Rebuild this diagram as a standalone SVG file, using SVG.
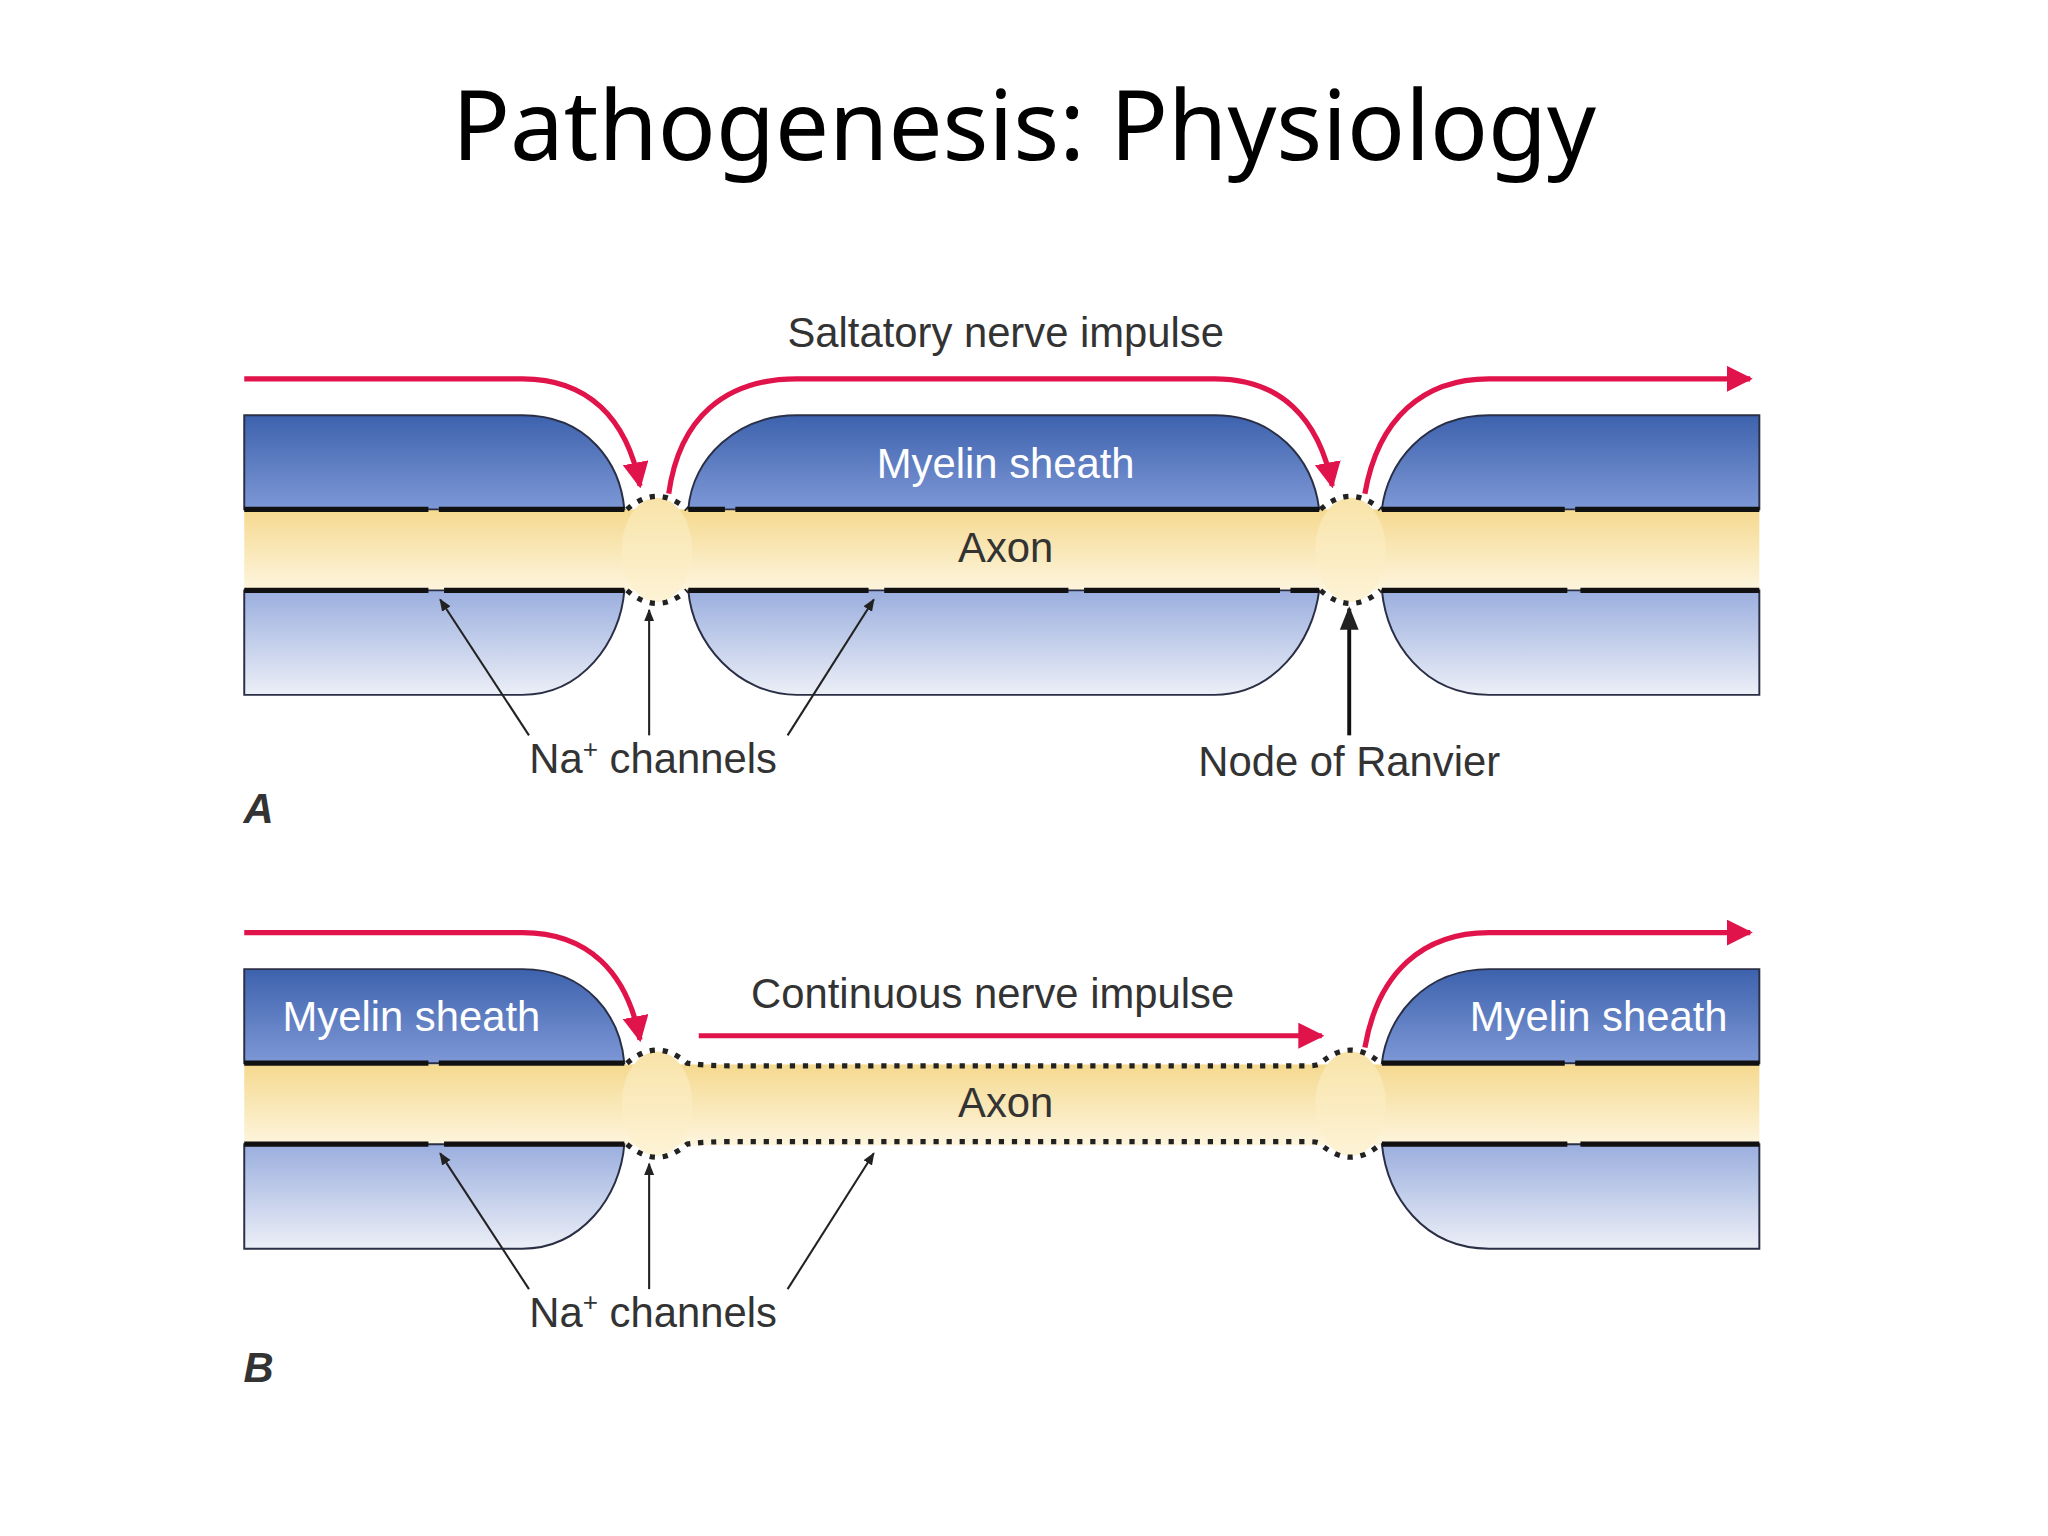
<svg xmlns="http://www.w3.org/2000/svg" width="2048" height="1536" viewBox="0 0 2048 1536">
<defs>
<linearGradient id="up" x1="0" y1="0" x2="0" y2="1"><stop offset="0" stop-color="#3d62ad"/><stop offset="1" stop-color="#7e98d6"/></linearGradient>
<linearGradient id="lo" x1="0" y1="0" x2="0" y2="1"><stop offset="0" stop-color="#9aaede"/><stop offset="1" stop-color="#eceff7"/></linearGradient>
<linearGradient id="ax" x1="0" y1="0" x2="0" y2="1"><stop offset="0" stop-color="#f5d98f"/><stop offset="1" stop-color="#fdf5de"/></linearGradient>
<linearGradient id="nd" x1="0" y1="0" x2="0" y2="1"><stop offset="0" stop-color="#f8e3a8"/><stop offset="1" stop-color="#fdf3d6"/></linearGradient>
<marker id="rh" viewBox="0 0 10 10" refX="9" refY="5" markerWidth="5" markerHeight="5" orient="auto"><path d="M0,0 L10,5 L0,10 Z" fill="#e0134a"/></marker>
<marker id="bh" viewBox="0 0 10 10" refX="9" refY="5" markerWidth="6" markerHeight="6" orient="auto"><path d="M0,1 L10,5 L0,9 Z" fill="#222"/></marker>
<style>
.sh{stroke:#2a2f45;stroke-width:1.5}
.mem{stroke:#111;stroke-width:4;fill:none}
.dot{stroke:#222;stroke-width:4;stroke-dasharray:4 6;fill:none}
.red{stroke:#e0134a;stroke-width:4;fill:none;marker-end:url(#rh)}
.ln{stroke:#222;stroke-width:1.6;fill:none;marker-end:url(#bh)}
.t{font-family:"Liberation Sans",Arial,sans-serif;font-size:32px;fill:#333;text-anchor:middle}
.w{fill:#fff}
.nd{fill:url(#nd)}
</style>
</defs>
<rect width="2048" height="1536" fill="#fff"/>
<text x="1024" y="160" font-family="'Noto Sans','Open Sans',sans-serif" font-size="96" text-anchor="middle" fill="#000">Pathogenesis: Physiology</text>
<g transform="scale(1.30612)">
<g id="panelA">
<rect x="187" y="390" width="1160" height="62" fill="url(#ax)"/>
<ellipse class="nd" cx="503" cy="421" rx="27" ry="40"/>
<ellipse class="nd" cx="1034" cy="421" rx="27" ry="40"/>
<path class="sh" fill="url(#up)" d="M187,318 H400 C450,318 475,355 478,390 H187 Z"/>
<path class="sh" fill="url(#up)" d="M527,390 C530,350 565,318 610,318 H930 C975,318 1005,350 1010,390 Z"/>
<path class="sh" fill="url(#up)" d="M1347,318 H1140 C1090,318 1062,355 1058,390 H1347 Z"/>
<path class="sh" fill="url(#lo)" d="M187,452 H478 C475,492 445,532 400,532 H187 Z"/>
<path class="sh" fill="url(#lo)" d="M527,452 C530,492 565,532 610,532 H930 C975,532 1005,492 1010,452 Z"/>
<path class="sh" fill="url(#lo)" d="M1347,452 H1058 C1062,492 1090,532 1140,532 H1347 Z"/>
<path class="mem" d="M187,390 H328 M336,390 H478 M527,390 H555 M563,390 H1010 M1058,390 H1198 M1206,390 H1347 M187,452 H328 M340,452 H478 M527,452 H665 M677,452 H818 M830,452 H980 M988,452 H1010 M1058,452 H1200 M1210,452 H1347"/>
<path class="dot" d="M480,390 Q503,370 526,390 M480,452 Q503,472 526,452 M1011,390 Q1034,370 1057,390 M1011,452 Q1034,472 1057,452"/>
<path class="red" d="M187,290 H400 C450,290 480,320 490,372"/>
<path class="red" d="M512,378 C520,320 555,290 610,290 H930 C980,290 1010,320 1020,372"/>
<path class="red" d="M1045,378 C1055,320 1090,290 1140,290 H1340"/>
<text class="t" x="770" y="266">Saltatory nerve impulse</text>
<text class="t w" x="770" y="366">Myelin sheath</text>
<text class="t" x="770" y="430">Axon</text>
<path class="ln" d="M405,563 L337,459"/>
<path class="ln" d="M497,563 L497,467"/>
<path class="ln" d="M603,563 L669,459"/>
<path stroke="#111" stroke-width="3" fill="none" marker-end="url(#bh)" d="M1033,563 L1033,466"/>
<text class="t" x="500" y="592">Na<tspan font-size="20" dy="-12">+</tspan><tspan dy="12"> channels</tspan></text>
<text class="t" x="1033" y="594">Node of Ranvier</text>
<text x="198" y="630" font-family="'Liberation Sans',Arial,sans-serif" font-size="32" font-weight="bold" font-style="italic" fill="#333" text-anchor="middle">A</text>
</g>
<g id="panelB" transform="translate(0,424)">
<rect x="187" y="391" width="1160" height="62" fill="url(#ax)"/>
<ellipse class="nd" cx="503" cy="421" rx="27" ry="40"/>
<ellipse class="nd" cx="1034" cy="421" rx="27" ry="40"/>
<path class="sh" fill="url(#up)" d="M187,318 H400 C450,318 475,355 478,390 H187 Z"/>
<path class="sh" fill="url(#up)" d="M1347,318 H1140 C1090,318 1062,355 1058,390 H1347 Z"/>
<path class="sh" fill="url(#lo)" d="M187,452 H478 C475,492 445,532 400,532 H187 Z"/>
<path class="sh" fill="url(#lo)" d="M1347,452 H1058 C1062,492 1090,532 1140,532 H1347 Z"/>
<path class="mem" d="M187,390 H328 M336,390 H478 M1058,390 H1198 M1206,390 H1347 M187,452 H328 M340,452 H478 M1058,452 H1200 M1210,452 H1347"/>
<path class="dot" d="M480,390 Q503,370 526,390 Q540,392 560,392 H1000 Q1010,392 1011,390 Q1034,370 1057,390 M480,452 Q503,472 526,452 Q540,450 560,450 H1000 Q1010,450 1011,452 Q1034,472 1057,452"/>
<path class="red" d="M187,290 H400 C450,290 480,320 490,372"/>
<path class="red" d="M535,369 H1012"/>
<path class="red" d="M1045,378 C1055,320 1090,290 1140,290 H1340"/>
<text class="t" x="760" y="348">Continuous nerve impulse</text>
<text class="t w" x="315" y="365">Myelin sheath</text>
<text class="t w" x="1224" y="365">Myelin sheath</text>
<text class="t" x="770" y="431">Axon</text>
<path class="ln" d="M405,563 L337,459"/>
<path class="ln" d="M497,563 L497,467"/>
<path class="ln" d="M603,563 L669,459"/>
<text class="t" x="500" y="592">Na<tspan font-size="20" dy="-12">+</tspan><tspan dy="12"> channels</tspan></text>
<text x="198" y="634" font-family="'Liberation Sans',Arial,sans-serif" font-size="32" font-weight="bold" font-style="italic" fill="#333" text-anchor="middle">B</text>
</g>
</g>
</svg>
